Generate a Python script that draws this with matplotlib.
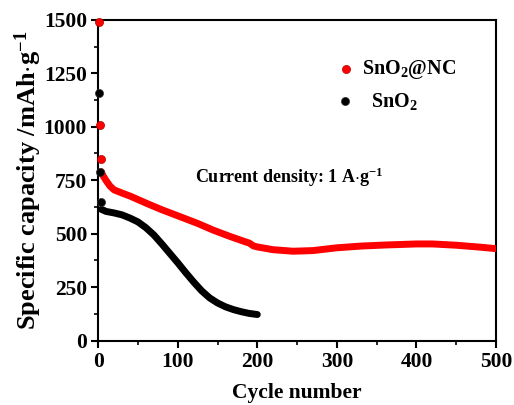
import matplotlib
matplotlib.use("Agg")
import matplotlib.pyplot as plt
from matplotlib.ticker import MultipleLocator

plt.rcParams['font.family'] = ['Liberation Serif', 'DejaVu Serif']
plt.rcParams['mathtext.fontset'] = 'custom'
plt.rcParams['mathtext.rm'] = 'Liberation Serif:bold'
plt.rcParams['mathtext.bf'] = 'Liberation Serif:bold'
plt.rcParams['mathtext.default'] = 'bf'

# SnO2@NC
nc_first_cycles = [1, 2, 3]
nc_first_caps = [1490, 1008, 848]
nc_cycles = [4, 6, 10, 15, 20, 30, 40, 62, 80, 104, 125, 145, 165, 185, 190, 195, 200,
             220, 245, 270, 300, 330, 360, 400, 420, 450, 480, 500]
nc_caps = [790, 772, 748, 722, 705, 690, 676, 640, 612, 578, 548, 516, 488, 462, 456, 443, 438,
           425, 418, 421, 434, 442, 447, 452, 452, 446, 437, 430]

# SnO2
s_first_cycles = [1, 2, 3]
s_first_caps = [1160, 787, 646]
s_cycles = [4, 10, 20, 30, 40, 50, 60, 70, 80, 90, 100, 110, 120, 130, 140, 150, 160, 170, 180, 190, 200]
s_caps = [614, 604, 597, 588, 573, 555, 528, 494, 452, 408, 364, 318, 274, 233, 200, 176, 158, 145, 135, 127, 122]

fig = plt.figure(figsize=(5.14, 4.05), dpi=100)
ax = fig.add_axes([0.191, 0.159, 0.774, 0.792])

red = '#ff0000'
ax.plot(nc_cycles, nc_caps, '-', color=red, lw=5, solid_capstyle='round', solid_joinstyle='round', zorder=3)
ax.plot(s_cycles, s_caps, '-', color='black', lw=5, solid_capstyle='round', solid_joinstyle='round', zorder=3)
ax.scatter(nc_first_cycles, nc_first_caps, s=34, color=red, edgecolor='#b00000', lw=0.5, zorder=4, clip_on=False)
ax.scatter(s_first_cycles, s_first_caps, s=34, color='black', edgecolor='#333333', lw=0.5, zorder=4, clip_on=False)

ax.set_xlim(0, 500)
ax.set_ylim(0, 1500)
ax.xaxis.set_major_locator(MultipleLocator(100))
ax.xaxis.set_minor_locator(MultipleLocator(50))
ax.yaxis.set_major_locator(MultipleLocator(250))
ax.yaxis.set_minor_locator(MultipleLocator(125))
ax.tick_params(which='major', direction='out', length=5, width=1.5, labelsize=15.5, pad=3)
ax.tick_params(which='minor', direction='out', length=3, width=1.2)
ax.tick_params(top=False, right=False, which='both')
for lab in ax.get_xticklabels() + ax.get_yticklabels():
    lab.set_fontweight('bold')
for sp in ax.spines.values():
    sp.set_linewidth(1.5)

ax.set_xlabel('Cycle number', fontsize=15.5, fontweight='bold', labelpad=8)
ax.set_ylabel(r'Specific capacity /mAh$\cdot$g$^{-1}$', fontsize=19, fontweight='bold', labelpad=0)

# legend
ax.scatter([312], [1270], s=34, color=red, edgecolor='#b00000', lw=0.5)
ax.scatter([310], [1122], s=34, color='black', edgecolor='#333333', lw=0.5)
ax.text(332, 1270, r'SnO$_2$@NC', fontsize=14.5, fontweight='bold', va='center')
ax.text(343, 1117, r'SnO$_2$', fontsize=14.5, fontweight='bold', va='center')
ax.text(240, 765, r'Current density: 1 A$\cdot$g$^{-1}$', fontsize=13, fontweight='bold', ha='center', va='center')

fig.savefig('out.png', dpi=100)
